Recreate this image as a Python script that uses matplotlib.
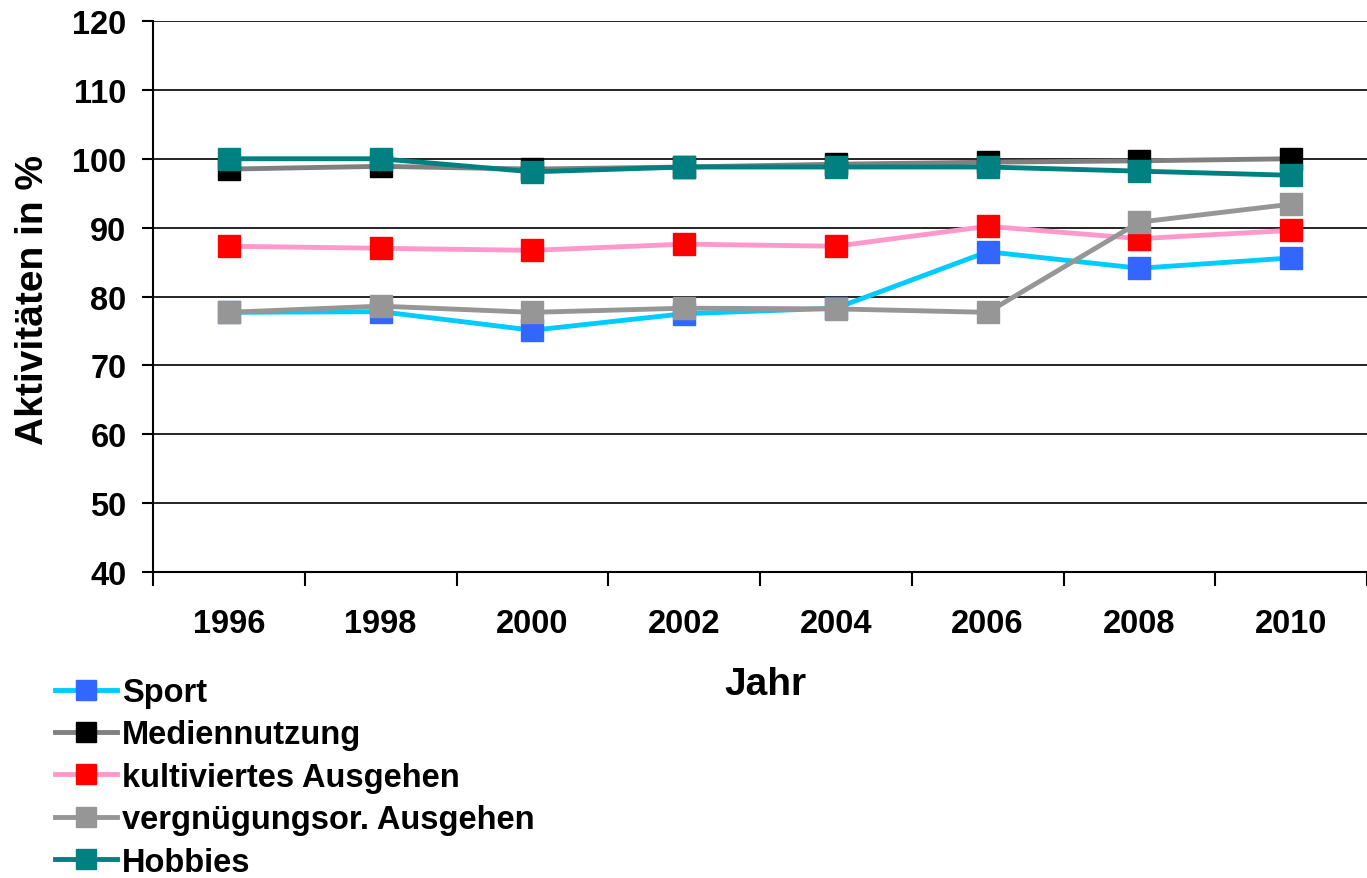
import numpy as np
import matplotlib.pyplot as plt

# data
years = ['1996', '1998', '2000', '2002', '2004', '2006', '2008', '2010']
sport = [77.7, 77.8, 75.1, 77.5, 78.3, 86.5, 84.1, 85.6]
medien = [98.5, 98.9, 98.5, 98.8, 99.2, 99.5, 99.7, 100.0]
kultiviert = [87.3, 87.0, 86.7, 87.6, 87.3, 90.2, 88.4, 89.6]
vergnuegen = [77.7, 78.6, 77.7, 78.3, 78.2, 77.7, 90.8, 93.4]
hobbies = [100.0, 100.0, 98.1, 98.8, 98.8, 98.8, 98.2, 97.6]

labels = ['Sport', 'Mediennutzung', 'kultiviertes Ausgehen',
          'vergnügungsor. Ausgehen', 'Hobbies']
line_colors = ['#00CCFF', '#808080', '#FF99CC', '#969696', '#008080']
marker_colors = ['#3366FF', '#000000', '#FF0000', '#969696', '#008080']

plt.rcParams['font.family'] = ['Liberation Sans', 'DejaVu Sans']
plt.rcParams['font.weight'] = 'bold'

fig = plt.figure(figsize=(13.67, 8.79), dpi=100)
ax = fig.add_axes([153 / 1367, 1 - 573 / 879, 1 - 153 / 1367, (573 - 22) / 879])

x = np.arange(len(years)) + 0.5
series = [sport, medien, kultiviert, vergnuegen, hobbies]
for vals, lab, lc, mc in zip(series, labels, line_colors, marker_colors):
    ax.plot(x, vals, color=lc, linewidth=3.5, marker='s', markersize=15.5,
            markerfacecolor=mc, markeredgecolor=mc, label=lab, clip_on=False)

ax.set_xlim(0, len(years))
ax.set_ylim(40, 120)
ax.set_yticks(np.arange(40, 121, 10))
ax.set_xticks(x)
ax.set_xticklabels(years)
ax.set_xticks(np.arange(0, len(years) + 1), minor=True)
ax.tick_params(axis='x', which='major', length=0, pad=26, labelsize=23.5)
ax.tick_params(axis='x', which='minor', length=10, width=1.5, direction='out')
ax.tick_params(axis='y', length=8, width=1.5, pad=11, labelsize=23.5)
for lbl in ax.get_xticklabels() + ax.get_yticklabels():
    lbl.set_fontweight('bold')

ax.yaxis.grid(True, color='black', linewidth=1.2)
ax.set_axisbelow(True)
ax.spines['top'].set_visible(False)
ax.spines['right'].set_visible(False)
ax.spines['left'].set_linewidth(1.5)
ax.spines['bottom'].set_linewidth(1.5)

fig.text(33 / 1367, 1 - 300 / 879, 'Aktivitäten in %', fontsize=28,
         fontweight='bold', rotation=90, ha='center', va='center')
fig.text(765 / 1367, 1 - 685 / 879, 'Jahr', fontsize=28, fontweight='bold',
         ha='center', va='center')

fig.legend(loc='upper left', bbox_to_anchor=(55 / 1367, 1 - 678 / 879),
           frameon=False, fontsize=23.5, borderpad=0, borderaxespad=0,
           handlelength=1.9, handletextpad=0.15, labelspacing=0.35,
           markerscale=0.95)

plt.savefig('out.png', dpi=100)
